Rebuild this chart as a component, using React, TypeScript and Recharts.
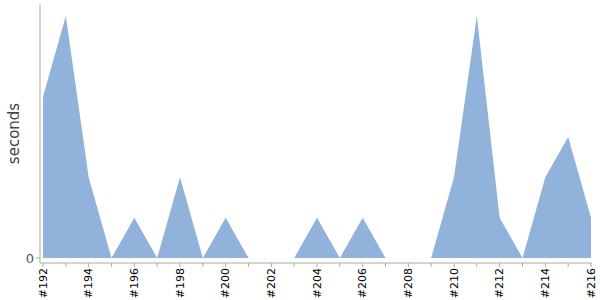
import { Area, AreaChart, XAxis, YAxis } from "recharts";

const builds = [
  "#192", "#193", "#194", "#195", "#196", "#197", "#198", "#199", "#200",
  "#201", "#202", "#203", "#204", "#205", "#206", "#207", "#208", "#209",
  "#210", "#211", "#212", "#213", "#214", "#215", "#216",
];
const durations = [4, 6, 2, 0, 1, 0, 2, 0, 1, 0, 0, 0, 1, 0, 1, 0, 0, 0, 2, 6, 1, 0, 2, 3, 1];
const yTicks = [0];

const data = builds.map((build, i) => ({ build, seconds: durations[i] }));

// only every second build gets a label, but every build keeps its tick mark
function BuildTick(props: any) {
  const { x, y, payload, index } = props;
  if (index % 2 !== 0) return <g />;
  const ty = y - 1;
  return (
    <text
      x={x}
      y={ty}
      transform={`rotate(-90 ${x} ${ty})`}
      textAnchor="end"
      dominantBaseline="central"
      fontSize={11}
      fontFamily="DejaVu Sans, sans-serif"
      fill="#000"
    >
      {payload.value}
    </text>
  );
}

export default function App() {
  return (
    <div style={{ position: "absolute", left: 0, top: 0, width: 600, height: 300, background: "#fff" }}>
      <AreaChart width={600} height={300} data={data} margin={{ top: 4, right: 8, left: 0, bottom: 0 }}>
        <XAxis
          dataKey="build"
          interval={0}
          height={37}
          padding={{ left: 3, right: 1 }}
          stroke="#aaaaaa"
          tickSize={4}
          tick={<BuildTick />}
        />
        <YAxis
          width={40}
          domain={[0, 6.3]}
          ticks={yTicks}
          padding={{ bottom: 5 }}
          stroke="#aaaaaa"
          tickSize={4}
          tick={{ fill: "#555", fontSize: 13, fontFamily: "DejaVu Sans, sans-serif" }}
          label={{
            value: "seconds",
            angle: -90,
            position: "insideLeft",
            offset: 14,
            style: { fill: "#444", fontSize: 15, fontFamily: "DejaVu Sans, sans-serif", textAnchor: "middle" },
          }}
        />
        <Area
          type="linear"
          dataKey="seconds"
          stroke="none"
          fill="#91b2da"
          fillOpacity={1}
          isAnimationActive={false}
        />
      </AreaChart>
    </div>
  );
}
